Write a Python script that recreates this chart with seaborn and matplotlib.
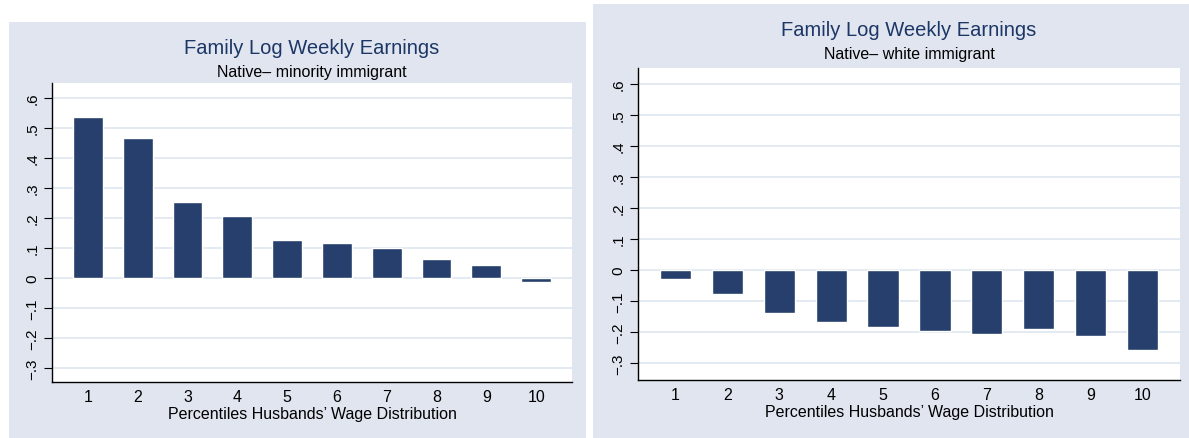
import matplotlib
matplotlib.use("Agg")
import matplotlib.pyplot as plt
import pandas as pd
import seaborn as sns
from matplotlib.patches import Rectangle

# Datos
percentiles = [1, 2, 3, 4, 5, 6, 7, 8, 9, 10]
minority_vals = [0.536, 0.468, 0.254, 0.207, 0.127, 0.117, 0.100, 0.062, 0.043, -0.012]
white_vals = [-0.030, -0.077, -0.138, -0.167, -0.182, -0.196, -0.206, -0.190, -0.211, -0.256]
y_ticks = [-0.3, -0.2, -0.1, 0.0, 0.1, 0.2, 0.3, 0.4, 0.5, 0.6]
y_tick_labels = ["\u2212.3", "\u2212.2", "\u2212.1", "0", ".1", ".2", ".3", ".4", ".5", ".6"]

title = "Family Log Weekly Earnings"
subtitles = ["Native\u2013 minority immigrant", "Native\u2013 white immigrant"]
xlabel = "Percentiles Husbands\u2019 Wage Distribution"

BG = "#e0e5f0"
BAR = "#263f6c"
NAVY = "#1c3665"
GRID = "#e2e8f1"

sns.set_theme(style="white")
plt.rcParams["font.family"] = ["Liberation Sans", "DejaVu Sans"]

W, H = 1189, 439
fig = plt.figure(figsize=(W / 100, H / 100), dpi=100)
fig.patch.set_facecolor("white")


def px(x0, y0, x1, y1):
    # caja en pixeles (origen arriba-izquierda) -> coordenadas de figura
    return [x0 / W, 1 - y1 / H, (x1 - x0) / W, (y1 - y0) / H]


# fondos de cada panel
for box in [(9, 23, 586, 439), (593, 5, 1189, 439)]:
    l, b, w, h = px(*box)
    fig.patches.append(Rectangle((l, b), w, h, transform=fig.transFigure,
                                 facecolor=BG, edgecolor="none", zorder=-5))

panels = [
    dict(vals=minority_vals, sub=subtitles[0], box=(52, 84, 572, 383),
         ylim=(-0.347, 0.65), title_y=48, sub_y=72, lab_y=415),
    dict(vals=white_vals, sub=subtitles[1], box=(638, 69, 1180, 381),
         ylim=(-0.354, 0.65), title_y=30, sub_y=55, lab_y=413),
]

for p in panels:
    ax = fig.add_axes(px(*p["box"]))
    ax.set_zorder(2)
    df = pd.DataFrame({"pct": percentiles, "val": p["vals"]})
    sns.barplot(data=df, x="pct", y="val", color=BAR, width=0.6,
                saturation=1, ax=ax, zorder=3)
    ax.set_facecolor("white")
    ax.set_xlim(-0.72, 9.72)
    ax.set_ylim(*p["ylim"])
    ax.set_yticks(y_ticks)
    ax.set_yticklabels(y_tick_labels, rotation=90, va="center", fontsize=11)
    for y in y_ticks:
        ax.axhline(y, color=GRID, lw=1.3, zorder=1)
    for s in ["top", "right"]:
        ax.spines[s].set_visible(False)
    for s in ["left", "bottom"]:
        ax.spines[s].set_color("black")
        ax.spines[s].set_linewidth(1.0)
    ax.tick_params(axis="y", length=6, width=0.8, color="black", pad=3,
                   left=True, labelcolor="black")
    ax.tick_params(axis="x", length=0, pad=5, labelsize=11.5, labelcolor="black")
    ax.set_xlabel("")
    ax.set_ylabel("")

    x0, y0, x1, y1 = p["box"]
    cx = (x0 + x1) / 2 / W
    fig.text(cx, 1 - p["title_y"] / H, title, ha="center", va="center",
             fontsize=14.5, color=NAVY)
    fig.text(cx, 1 - p["sub_y"] / H, p["sub"], ha="center", va="center",
             fontsize=11.5, color="black")
    fig.text(cx, 1 - p["lab_y"] / H, xlabel, ha="center", va="center",
             fontsize=11.5, color="black")

fig.savefig("out.png", dpi=100, facecolor="white")
